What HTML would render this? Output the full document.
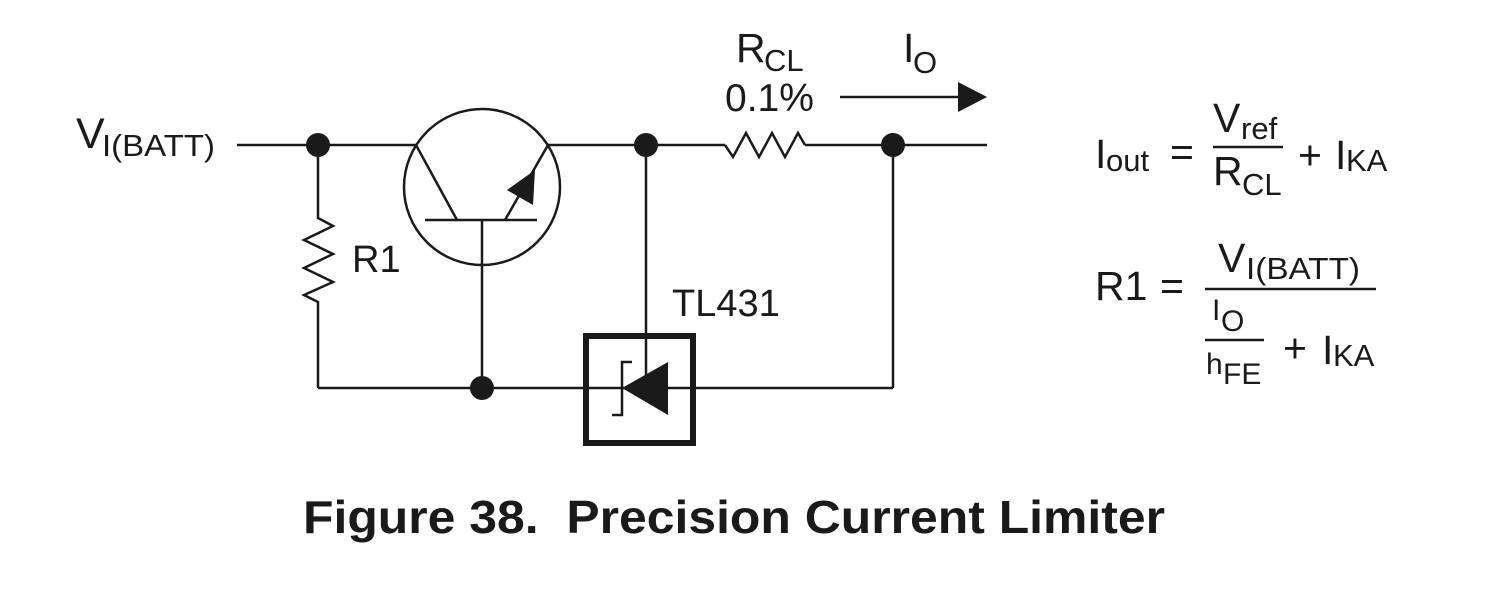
<!DOCTYPE html>
<html><head><meta charset="utf-8"><style>
html,body{margin:0;padding:0;background:#fff;}
svg{display:block;}
text{font-family:"Liberation Sans",Arial,sans-serif;fill:#1a1a1a;}
</style></head><body>
<svg width="1488" height="594" viewBox="0 0 1488 594" xmlns="http://www.w3.org/2000/svg">
<g stroke="#1a1a1a" stroke-width="2.5" fill="none">
<line x1="237" y1="145" x2="416" y2="145"/>
<line x1="548" y1="145" x2="725" y2="145"/>
<line x1="805" y1="145" x2="987" y2="145"/>
<polyline points="318,145 318,218 333,226 304,240 333,254 304,268 333,282 304,295 318,302 318,388"/>
<line x1="318" y1="388" x2="893" y2="388"/>
<line x1="893" y1="145" x2="893" y2="388"/>
<circle cx="482" cy="187" r="78"/>
<line x1="416" y1="145" x2="457" y2="220"/>
<line x1="425" y1="220" x2="537" y2="220"/>
<line x1="505" y1="220" x2="548" y2="145"/>
<line x1="482" y1="220" x2="482" y2="388"/>
<line x1="646" y1="145" x2="646" y2="388"/>
<polyline points="632,362 622,362 622,415 612,415"/>
<polyline points="725,145 733,157 746,133 759,157 772,133 785,157 798,133 805,145"/>
<line x1="840" y1="97" x2="962" y2="97"/>
<line x1="1213" y1="147" x2="1283" y2="147"/>
<line x1="1205" y1="289" x2="1376" y2="289"/>
<line x1="1205" y1="340" x2="1264" y2="340"/>
</g>
<rect x="586" y="336" width="107" height="107" fill="none" stroke="#1a1a1a" stroke-width="6"/>
<polygon points="622,388 668,362 668,415" fill="#1a1a1a"/>
<polygon points="507,190 535,170 533,205" fill="#1a1a1a"/>
<polygon points="958,82 987,97 958,112" fill="#1a1a1a"/>
<g fill="#1a1a1a">
<circle cx="318" cy="145" r="12"/>
<circle cx="646" cy="145" r="12"/>
<circle cx="893" cy="145" r="12"/>
<circle cx="482" cy="388" r="12"/>
</g>
<text x="76" y="148" font-size="43">V</text><text x="102" y="156" font-size="31" textLength="113" lengthAdjust="spacingAndGlyphs">I(BATT)</text>
<text x="352" y="272" font-size="38">R1</text>
<text x="672" y="316" font-size="38">TL431</text>
<text x="736" y="62" font-size="41">R</text><text x="764" y="71" font-size="31">CL</text>
<text x="725" y="111" font-size="39">0.1%</text>
<text x="903" y="62" font-size="41">I</text><text x="913" y="73" font-size="31">O</text>
<text x="1095" y="168" font-size="41">I</text><text x="1106" y="171" font-size="31">out</text>
<text x="1170" y="166" font-size="41">=</text>
<text x="1213" y="132" font-size="41">V</text><text x="1241" y="139" font-size="31">ref</text>
<text x="1213" y="185" font-size="41">R</text><text x="1242" y="195" font-size="31">CL</text>
<text x="1298" y="169" font-size="41">+</text>
<text x="1335" y="169" font-size="41">I</text><text x="1346" y="171" font-size="31">KA</text>
<text x="1095" y="300" font-size="41">R1</text>
<text x="1160" y="300" font-size="41">=</text>
<text x="1218" y="272" font-size="41">V</text><text x="1246" y="279" font-size="31" textLength="114" lengthAdjust="spacingAndGlyphs">I(BATT)</text>
<text x="1212" y="320" font-size="30">I</text><text x="1221" y="331" font-size="30">O</text>
<text x="1206" y="374" font-size="30">h</text><text x="1223" y="384" font-size="30">FE</text>
<text x="1283" y="362" font-size="41">+</text>
<text x="1322" y="364" font-size="41">I</text><text x="1333" y="366" font-size="31">KA</text>
<text x="303" y="533" font-size="46" font-weight="bold" textLength="862" lengthAdjust="spacingAndGlyphs" xml:space="preserve">Figure 38.  Precision Current Limiter</text>
</svg>
</body></html>
